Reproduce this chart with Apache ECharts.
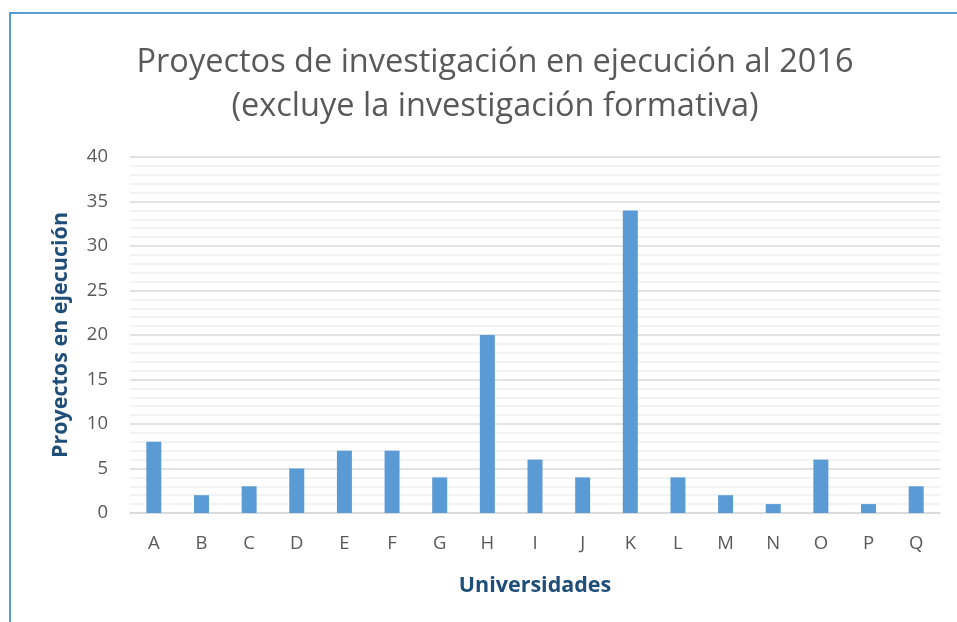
<!DOCTYPE html>
<html><head><meta charset="utf-8">
<script src="https://cdn.jsdelivr.net/npm/echarts@6/dist/echarts.min.js"></script>
<style>html,body{margin:0;padding:0;background:#fff}#c{width:957px;height:622px}</style>
</head><body><div id="c"></div>
<script>
const categories = ['A','B','C','D','E','F','G','H','I','J','K','L','M','N','O','P','Q'];
const values = [8,2,3,5,7,7,4,20,6,4,34,4,2,1,6,1,3];
const titleText = 'Proyectos de investigación en ejecución al 2016\n(excluye la investigación formativa)';
const chart = echarts.init(document.getElementById('c'));
chart.setOption({
  animation: false,
  graphic: [{type:'rect', shape:{x:10, y:13, width:1000, height:700}, style:{fill:'none', stroke:'#5B9BD5', lineWidth:2}, silent:true}],
  title: {text: titleText, left: 490, top: 36, textAlign: 'center',
    textStyle: {fontFamily:'Open Sans', fontWeight:'normal', fontSize:32.5, color:'#595959', lineHeight:44}},
  grid: {left:130, right:17, top:157, bottom:109, containLabel:false},
  xAxis: {type:'category', data: categories,
    name:'Universidades', nameLocation:'middle', nameGap:62,
    nameTextStyle:{fontFamily:'Open Sans', fontWeight:'bold', fontSize:21.5, color:'#1F4E79'},
    axisLine:{lineStyle:{color:'#d9d9d9', width:1.5}}, axisTick:{show:false},
    axisLabel:{fontFamily:'Open Sans', fontSize:18.5, color:'#595959', margin:21}},
  yAxis: {type:'value', min:0, max:40, interval:5,
    name:'Proyectos en ejecución', nameLocation:'middle', nameGap:58,
    nameTextStyle:{fontFamily:'Open Sans', fontWeight:'bold', fontSize:21.5, color:'#1F4E79'},
    axisLine:{show:false}, axisTick:{show:false},
    axisLabel:{fontFamily:'Open Sans', fontSize:18.5, color:'#595959', margin:22},
    splitLine:{lineStyle:{color:'#d9d9d9', width:1.5}},
    minorTick:{show:false, splitNumber:5},
    minorSplitLine:{show:true, lineStyle:{color:'#f0f0f0', width:1.5}}},
  series: [{type:'bar', data: values, barWidth:15, itemStyle:{color:'#5B9BD5'}}]
});
</script></body></html>
